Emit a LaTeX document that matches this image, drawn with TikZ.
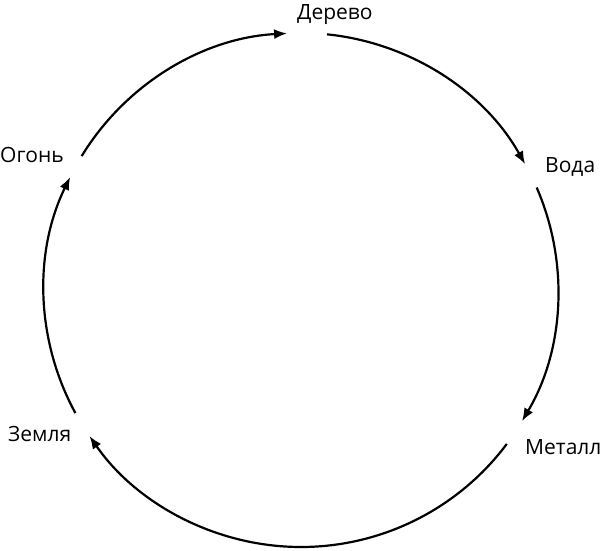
\documentclass[tikz,border=0pt]{standalone}
\usepackage{fontspec}
\setmainfont{Open Sans}
\usetikzlibrary{arrows.meta,calc}
\begin{document}
\begin{tikzpicture}[x=1pt,y=1pt,
  lbl/.style={anchor=base west,inner sep=0pt,font=\fontsize{21}{24}\selectfont},
  arr/.style={line width=2.2pt,-{Latex[length=13pt,width=10pt]}}]
\useasboundingbox[fill=white] (0,0) rectangle (600,-550);
\coordinate (O) at (301,-290);
\node[lbl] (derevo) at (297,-19) {Дерево};
\node[lbl] (voda) at (545,-172) {Вода};
\node[lbl] (metall) at (525,-454) {Металл};
\node[lbl] (zemlya) at (8,-441) {Земля};
\node[lbl] (ogon) at (0,-162) {Огонь};
\coordinate (a1) at ($(O)+(148.6:257)$);
\coordinate (a2) at ($(O)+(84.2:257)$);
\coordinate (a3) at ($(O)+(23.5:257)$);
\coordinate (a4) at ($(O)+(-36.8:257)$);
\coordinate (a5) at ($(O)+(208.6:257)$);
\draw[arr] (a1) arc[start angle=148.6,end angle=93.1,radius=257];
\draw[arr] (a2) arc[start angle=84.2,end angle=29.3,radius=257];
\draw[arr] (a3) arc[start angle=23.5,end angle=-30.7,radius=257];
\draw[arr] (a4) arc[start angle=-36.8,end angle=-145.4,radius=257];
\draw[arr] (a5) arc[start angle=208.6,end angle=153.9,radius=257];
\end{tikzpicture}
\end{document}
